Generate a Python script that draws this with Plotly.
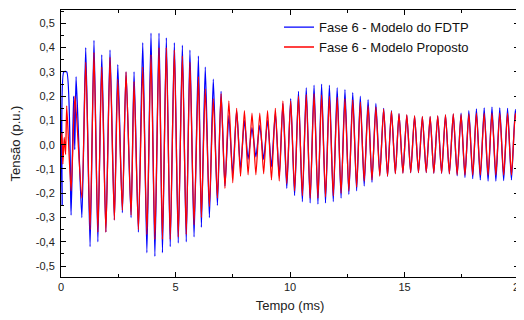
import plotly.graph_objects as go

# Turning points (time in ms, voltage in p.u.)
early_blue_t = [0.00, 0.05, 0.12, 0.25, 0.44, 0.55, 0.60, 0.66, 0.91, 1.08, 1.27, 1.44, 1.61, 1.78, 1.96,
                2.14, 2.33, 2.48, 2.68, 2.84, 3.06, 3.19, 3.38, 3.57, 3.75, 3.93, 4.10, 4.28, 4.43, 4.60,
                4.77, 4.95, 5.12, 5.30, 5.47, 5.63, 5.81, 6.00, 6.13, 6.30, 6.48, 6.65, 6.83, 6.99]
early_blue_v = [0.10, -0.25, 0.30, 0.30, -0.29, 0.20, -0.02, 0.28, -0.30, 0.40, -0.42, 0.43, -0.40, 0.37, -0.36,
                0.39, -0.31, 0.33, -0.28, 0.30, -0.30, 0.30, -0.36, 0.42, -0.445, 0.46, -0.46, 0.46, -0.445, 0.44,
                -0.42, 0.42, -0.405, 0.41, -0.40, 0.39, -0.38, 0.365, -0.34, 0.32, -0.30, 0.27, -0.25, 0.22]

early_red_t = [0.00, 0.04, 0.08, 0.14, 0.20, 0.25, 0.44, 0.61, 0.91, 1.08, 1.27, 1.44, 1.61, 1.78, 1.96,
               2.14, 2.33, 2.48, 2.68, 2.84, 3.06, 3.19, 3.38, 3.57, 3.75, 3.93, 4.10, 4.28, 4.43, 4.60,
               4.77, 4.95, 5.12, 5.30, 5.47, 5.63, 5.81, 6.00, 6.13, 6.30, 6.48, 6.65, 6.83, 6.99]
early_red_v = [0.00, 0.05, -0.08, 0.03, -0.04, 0.16, -0.19, 0.20, -0.22, 0.34, -0.35, 0.38, -0.36, 0.32, -0.36,
               0.36, -0.31, 0.27, -0.27, 0.30, -0.29, 0.26, -0.35, 0.32, -0.37, 0.37, -0.39, 0.40, -0.39, 0.40,
               -0.39, 0.39, -0.38, 0.365, -0.37, 0.34, -0.33, 0.28, -0.30, 0.23, -0.255, 0.19, -0.22, 0.21]

late_t = [7.16, 7.33, 7.50, 7.67, 7.84, 8.01, 8.17, 8.34, 8.51, 8.68, 8.85, 9.02, 9.19, 9.36, 9.53, 9.69,
          9.86, 10.03, 10.20, 10.37, 10.54, 10.71, 10.88, 11.05, 11.22, 11.38, 11.55, 11.72, 11.89, 12.06,
          12.23, 12.40, 12.57, 12.74, 12.91, 13.07, 13.24, 13.41, 13.58, 13.75, 13.92, 14.09, 14.26, 14.43,
          14.60, 14.76, 14.93, 15.10, 15.27, 15.44, 15.61, 15.78, 15.95, 16.12, 16.28, 16.45, 16.62, 16.79,
          16.96, 17.13, 17.30, 17.47, 17.64, 17.81, 17.98, 18.14, 18.31, 18.48, 18.65, 18.82, 18.99, 19.16,
          19.33, 19.50, 19.67, 19.84, 20.00]
late_blue_v = [-0.17, 0.12, -0.12, 0.14, -0.10, 0.10, -0.06, 0.07, -0.05, 0.08, -0.06, 0.10, -0.09, 0.13, -0.13, 0.17,
               -0.18, 0.19, -0.21, 0.22, -0.235, 0.235, -0.24, 0.245, -0.245, 0.25, -0.24, 0.245, -0.235, 0.235,
               -0.22, 0.227, -0.205, 0.215, -0.19, 0.20, -0.17, 0.186, -0.155, 0.17, -0.125, 0.15, -0.13, 0.14,
               -0.118, 0.128, -0.116, 0.122, -0.115, 0.118, -0.115, 0.115, -0.115, 0.115, -0.117, 0.118, -0.118, 0.122,
               -0.12, 0.126, -0.128, 0.13, -0.135, 0.14, -0.14, 0.148, -0.145, 0.152, -0.15, 0.155, -0.15, 0.152,
               -0.148, 0.15, -0.145, 0.146, -0.10]
late_red_v = [-0.18, 0.18, -0.157, 0.15, -0.13, 0.14, -0.124, 0.13, -0.124, 0.13, -0.12, 0.14, -0.145, 0.15, -0.15, 0.18,
              -0.16, 0.18, -0.19, 0.20, -0.21, 0.207, -0.22, 0.21, -0.22, 0.205, -0.215, 0.20, -0.21, 0.195,
              -0.20, 0.19, -0.19, 0.185, -0.175, 0.175, -0.15, 0.16, -0.145, 0.155, -0.13, 0.147, -0.13, 0.138,
              -0.12, 0.128, -0.118, 0.124, -0.115, 0.12, -0.115, 0.117, -0.115, 0.117, -0.117, 0.12, -0.117, 0.124,
              -0.12, 0.128, -0.124, 0.125, -0.125, 0.127, -0.125, 0.13, -0.125, 0.13, -0.125, 0.13, -0.125, 0.13,
              -0.125, 0.13, -0.125, 0.13, -0.09]

y_tickvals = [0.5, 0.4, 0.3, 0.2, 0.1, 0.0, -0.1, -0.2, -0.3, -0.4, -0.5]
y_ticktext = ["0,5", "0,4", "0,3", "0,2", "0,1", "0,0", "-0,1", "-0,2", "-0,3", "-0,4", "-0,5"]
x_tickvals = [0, 5, 10, 15, 20]
x_ticktext = ["0", "5", "10", "15", "20"]

blue_t = early_blue_t + late_t
blue_v = early_blue_v + late_blue_v
red_t = early_red_t + late_t
red_v = early_red_v + late_red_v

FONT = "Liberation Sans, Arial"

fig = go.Figure()
fig.add_trace(go.Scatter(x=blue_t, y=blue_v, mode="lines", name="Fase 6 - Modelo do FDTP",
                         line=dict(color="#0000FF", width=1.3, shape="spline", smoothing=0.6)))
fig.add_trace(go.Scatter(x=red_t, y=red_v, mode="lines", name="Fase 6 - Modelo Proposto",
                         line=dict(color="#FF0000", width=1.3, shape="spline", smoothing=0.6)))

axis_common = dict(showgrid=False, zeroline=False, showline=True, linecolor="black", linewidth=1,
                   mirror="allticks", ticks="inside", tickcolor="black", ticklen=5, automargin=False,
                   ticklabeloverflow="allow",
                   tickfont=dict(family=FONT, size=11, color="#222"))
fig.update_xaxes(range=[0, 20], tickvals=x_tickvals, ticktext=x_ticktext,
                 minor=dict(ticks="inside", dtick=2.5, tick0=0, ticklen=3, tickcolor="black"),
                 title=dict(text="Tempo (ms)", font=dict(family=FONT, size=13, color="#222"), standoff=8),
                 **axis_common)
fig.update_yaxes(range=[-0.545, 0.555], tickvals=y_tickvals, ticktext=y_ticktext,
                 minor=dict(ticks="inside", dtick=0.05, tick0=0, ticklen=3, tickcolor="black"),
                 ticklabelstandoff=3,
                 title=dict(text="Tensão (p.u.)", font=dict(family=FONT, size=13, color="#222"), standoff=17),
                 **axis_common)

# the page body adds an 8 px offset, so the figure is sized to the visible area
fig.update_layout(
    width=516, height=312,
    margin=dict(l=53, r=5, t=2, b=43, autoexpand=False),
    plot_bgcolor="white", paper_bgcolor="white",
    font=dict(family=FONT, size=12, color="#222"),
    legend=dict(x=0.476, y=0.992, xanchor="left", yanchor="top", bgcolor="rgba(0,0,0,0)",
                font=dict(family=FONT, size=13, color="#111"),
                tracegroupgap=0),
    showlegend=True,
)

fig.write_html("out.html")
